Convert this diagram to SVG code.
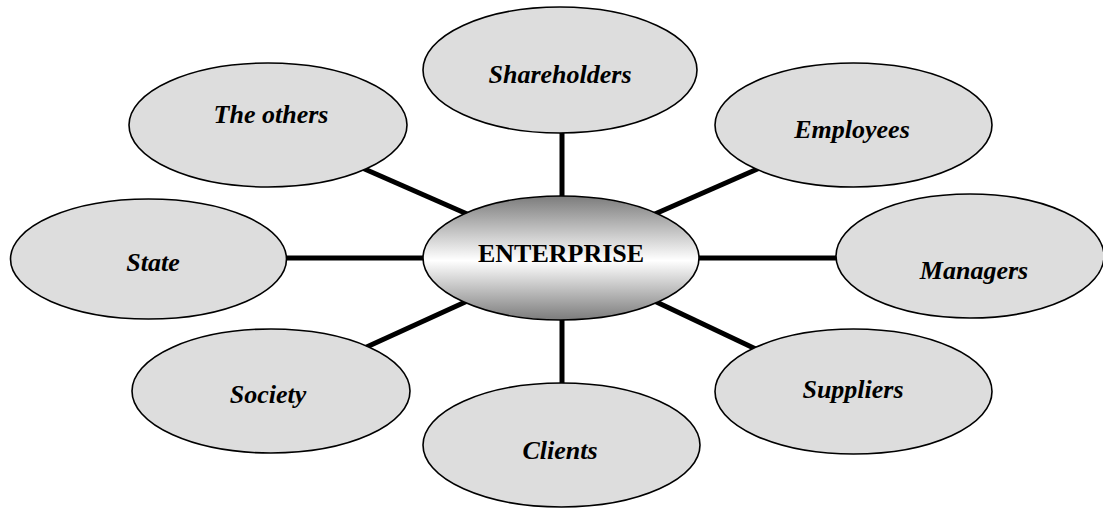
<svg xmlns="http://www.w3.org/2000/svg" width="1103" height="508" viewBox="0 0 1103 508">
  <defs>
    <linearGradient id="hubFill" x1="0" y1="0" x2="0" y2="1">
      <stop offset="0" stop-color="#7c7c7c"/>
      <stop offset="0.52" stop-color="#ffffff"/>
      <stop offset="1" stop-color="#7c7c7c"/>
    </linearGradient>
  </defs>
  <style>
    .link { stroke: #000; stroke-width: 5; fill: none; }
    .node ellipse { fill: #dddddd; stroke: #000; stroke-width: 1.6; }
    .node text { font-family: "Liberation Serif", "Times New Roman", serif; font-size: 26px; font-weight: bold; font-style: italic; fill: #000; text-anchor: middle; }
    #hub ellipse { fill: url(#hubFill); stroke: #000; stroke-width: 1.6; }
    #hub text { font-family: "Liberation Serif", "Times New Roman", serif; font-size: 26px; font-weight: bold; fill: #000; text-anchor: middle; }
  </style>

  <!-- spokes from the hub to each stakeholder -->
  <g id="connectors">
    <line class="link" x1="562" y1="125" x2="562" y2="205"/>
    <line class="link" x1="562" y1="310" x2="562" y2="390"/>
    <line class="link" x1="280" y1="258" x2="430" y2="258"/>
    <line class="link" x1="692" y1="258" x2="845" y2="258"/>
    <line class="link" x1="360" y1="167" x2="474" y2="217"/>
    <line class="link" x1="762" y1="167" x2="648" y2="217"/>
    <line class="link" x1="360" y1="350" x2="474" y2="298"/>
    <line class="link" x1="760" y1="351" x2="648" y2="298"/>
  </g>

  <g id="shareholders" class="node">
    <ellipse cx="560" cy="70" rx="137" ry="63"/>
    <text x="560" y="83">Shareholders</text>
  </g>
  <g id="the-others" class="node">
    <ellipse cx="268" cy="125" rx="139" ry="62"/>
    <text x="271" y="123">The others</text>
  </g>
  <g id="employees" class="node">
    <ellipse cx="853.5" cy="125" rx="138.5" ry="62"/>
    <text x="852" y="138">Employees</text>
  </g>
  <g id="state" class="node">
    <ellipse cx="148.5" cy="259" rx="138" ry="60"/>
    <text x="153" y="271">State</text>
  </g>
  <g id="managers" class="node">
    <ellipse cx="970" cy="256" rx="134" ry="62"/>
    <text x="974" y="279">Managers</text>
  </g>
  <g id="society" class="node">
    <ellipse cx="271" cy="391" rx="139" ry="62"/>
    <text x="268" y="403">Society</text>
  </g>
  <g id="suppliers" class="node">
    <ellipse cx="853.5" cy="391.5" rx="138.5" ry="62.5"/>
    <text x="853" y="398">Suppliers</text>
  </g>
  <g id="clients" class="node">
    <ellipse cx="561.5" cy="445" rx="138.5" ry="62"/>
    <text x="560" y="459">Clients</text>
  </g>

  <g id="hub">
    <ellipse cx="561" cy="258" rx="138" ry="62"/>
    <text x="561" y="262">ENTERPRISE</text>
  </g>
</svg>
